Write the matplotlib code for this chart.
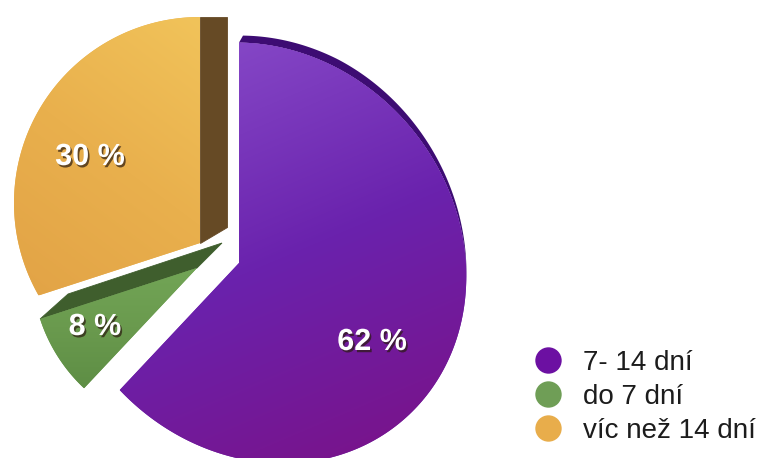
import numpy as np
import matplotlib.pyplot as plt
from matplotlib.patches import Polygon
from matplotlib.colors import LinearSegmentedColormap
from matplotlib.lines import Line2D
import matplotlib.patheffects as pe

plt.rcParams['font.family'] = ['Liberation Sans', 'DejaVu Sans']

# survey answers
labels = ["7- 14 dní", "do 7 dní", "víc než 14 dní"]
shares = [62, 8, 30]

# colours: front gradient stops (bottom -> top), side face, legend dot
front_stops = [["#7b1185", "#6a22ad", "#8a4ecb"],
               ["#5e8e45", "#6a9a4e", "#72a556"],
               ["#e2a346", "#e9b04d", "#f1c35a"]]
grad_dirs = [(-0.35, 1.0), (0.0, 1.0), (0.5, 1.0)]
side_colors = ["#3d0c73", "#3f5e2d", "#664a25"]
legend_colors = ["#6c10a2", "#6f9e56", "#e8ad4b"]

# slice layout in pixels (y pointing up): apex, outline ellipse, extrusion
apex = [(239, 195), (197, 190), (200, 215)]
outline = [((260, 205), (220, 196), -50),
           ((197, 190), (165, 165), 0),
           ((200, 255), (186, 186), 0)]
side_kind = ["rim", "edge", "edge"]
depth_in = [(4, 7), (25, 25), (27, 16)]
depth_out = [(4, 7), (28, 25), (27, 0)]
label_pos = [(372, 116), (95, 131), (90, 301)]

W, H = 763, 458


def ray_length(p, theta, centre, axes_len, rot):
    # distance from p along angle theta to the outline ellipse
    phi = np.radians(rot)
    cr, sr = np.cos(phi), np.sin(phi)
    px, py = p[0] - centre[0], p[1] - centre[1]
    qx = (px * cr + py * sr) / axes_len[0]
    qy = (-px * sr + py * cr) / axes_len[1]
    dx, dy = np.cos(theta), np.sin(theta)
    ex = (dx * cr + dy * sr) / axes_len[0]
    ey = (-dx * sr + dy * cr) / axes_len[1]
    a = ex ** 2 + ey ** 2
    b = 2 * (qx * ex + qy * ey)
    c = qx ** 2 + qy ** 2 - 1
    return (-b + np.sqrt(b ** 2 - 4 * a * c)) / (2 * a)


def slice_outline(i, a_hi, a_lo):
    th = np.radians(np.linspace(a_hi, a_lo, 240))
    r = ray_length(apex[i], th, *outline[i])
    xs = apex[i][0] + r * np.cos(th)
    ys = apex[i][1] + r * np.sin(th)
    return th, np.vstack([[apex[i]], np.column_stack([xs, ys])])


fig = plt.figure(figsize=(W / 100, H / 100), dpi=100)
ax = fig.add_axes([0, 0, 1, 1])
ax.set_xlim(0, W)
ax.set_ylim(0, H)
ax.axis('off')

# pie starts at 12 o'clock and runs clockwise
bounds = 90 - 360 * np.cumsum([0] + shares) / sum(shares)

for i, v in enumerate(shares):
    a_hi, a_lo = bounds[i], bounds[i + 1]
    th, pts = slice_outline(i, a_hi, a_lo)

    # extruded side of the slice
    if side_kind[i] == "rim":
        # rim thins out towards the right-hand side
        arc = pts[1:]
        w = np.clip(np.sin(th) + 0.1, 0, 1)[:, None]
        side = np.vstack([arc, (arc + w * np.array(depth_out[i]))[::-1]])
        lw = 0
    else:
        outer = pts[-1]
        side = np.array([apex[i], outer,
                         outer + np.array(depth_out[i]),
                         np.array(apex[i]) + np.array(depth_in[i])])
        lw = 0.6
    ax.add_patch(Polygon(side, closed=True, facecolor=side_colors[i],
                         edgecolor=side_colors[i], lw=lw, zorder=2))

    # front face with gradient fill
    face = Polygon(pts, closed=True, facecolor=front_stops[i][1],
                   edgecolor='none', zorder=3)
    ax.add_patch(face)
    x0, y0 = pts.min(axis=0)
    x1, y1 = pts.max(axis=0)
    gx, gy = np.meshgrid(np.linspace(0, 1, 100), np.linspace(0, 1, 100))
    g = gx * grad_dirs[i][0] + gy * grad_dirs[i][1]
    g = (g - g.min()) / (g.max() - g.min())
    cmap = LinearSegmentedColormap.from_list("f%d" % i, front_stops[i])
    im = ax.imshow(g, extent=(x0, x1, y0, y1), origin='lower', cmap=cmap,
                   aspect='auto', interpolation='bilinear', zorder=4)
    im.set_clip_path(face)

    ax.text(label_pos[i][0], label_pos[i][1], f"{v} %", color='white',
            fontsize=22, fontweight='bold', ha='center', va='center', zorder=6,
            path_effects=[pe.withSimplePatchShadow(offset=(1.2, -1.6),
                                                   shadow_rgbFace='#2a1a10',
                                                   alpha=0.7)])

ax.set_xlim(0, W)
ax.set_ylim(0, H)

handles = [Line2D([], [], marker='o', linestyle='none', markersize=19,
                  markerfacecolor=c, markeredgecolor='none')
           for c in legend_colors]
ax.legend(handles, labels, loc='upper left', bbox_to_anchor=(534, 108),
          bbox_transform=ax.transData, frameon=False, fontsize=20,
          handlelength=1.0, handletextpad=0.75, labelspacing=0.28,
          borderpad=0, borderaxespad=0, labelcolor='#1c1c1c')

fig.savefig("out.png", dpi=100)
